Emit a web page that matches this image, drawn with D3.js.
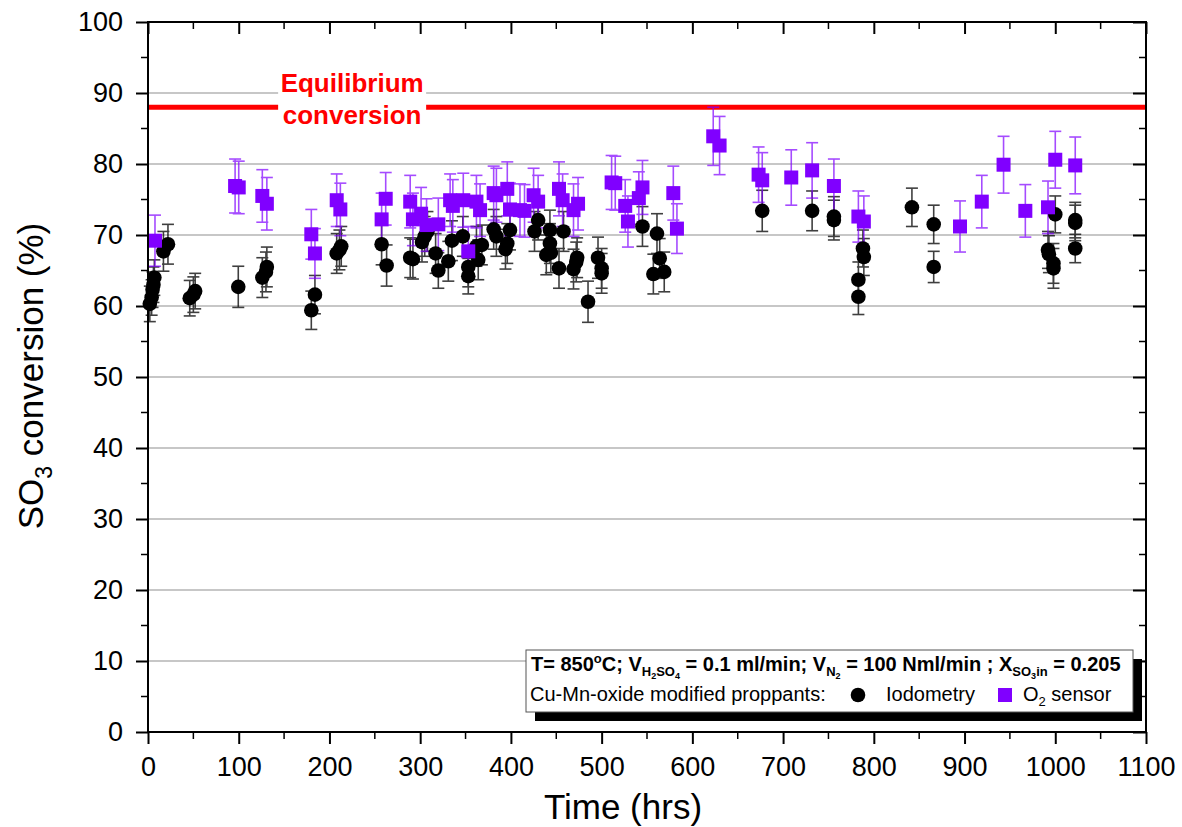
<!DOCTYPE html>
<html>
<head>
<meta charset="utf-8">
<script src="https://cdn.jsdelivr.net/npm/d3@7/dist/d3.min.js"></script>
<style>
  body { margin: 0; background: #fff; }
  text { font-family: "Liberation Sans", Arial, sans-serif; }
</style>
</head>
<body>
<div id="chart"></div>
<script>
// [time (hrs), SO3 conversion (%), error]
var iodometry = [
  [2,60.3,2.5],[4,61.2,2.5],[5,62.3,2.5],[6,63.0,2.5],[7,64.0,2.5],[17,67.7,2.8],[22,68.7,2.8],
  [46,61.1,2.5],[50,61.6,2.5],[52,62.1,2.5],[99.5,62.7,2.9],[126,64.0,2.8],[130,64.8,2.8],[131,65.5,2.8],
  [180,59.4,2.7],[184,61.6,2.7],[208,67.4,2.8],[211,67.9,2.8],[213,68.4,2.8],[257.5,68.7,2.9],[263,65.7,2.9],
  [289,66.8,2.8],[292,66.6,2.8],[302,69.0,2.8],[305,69.8,2.8],[308,70.5,2.8],[317,67.4,2.8],[320,65.0,2.5],
  [331,66.3,2.8],[335,69.2,2.8],[347,69.8,2.8],[353,65.5,2.8],[353,64.2,2.5],[362,68.4,2.8],[364,66.5,2.8],
  [368,68.6,2.8],[381,70.8,2.8],[384,69.8,2.8],[394,68.0,2.8],[396,68.8,2.8],[399,70.7,2.8],[426,70.5,2.8],
  [430,72.1,2.8],[439,67.2,2.8],[443,70.7,2.8],[443,68.8,2.8],[444,67.5,2.8],[453,65.3,2.8],[458,70.5,2.8],
  [469,65.2,2.8],[472,66.2,2.8],[473,66.8,2.8],[485,60.6,2.9],[496,66.8,2.9],[500,65.3,2.8],[500,64.6,2.8],
  [545,71.2,2.8],[557,64.5,2.8],[561,70.2,2.8],[564,66.7,2.8],[569,64.8,2.8],[677,73.4,2.9],[732,73.4,2.8],
  [756,72.6,2.8],[756,72.1,2.8],[783,63.7,2.5],[783,61.3,2.5],[788,68.1,2.6],[789,66.9,2.6],[842,73.9,2.7],
  [866,71.5,2.7],[866,65.5,2.2],[992,67.9,2.6],[993,67.3,2.6],[998,66.0,2.8],[998,65.3,2.8],[1000,72.9,2.6],
  [1022,72.1,2.5],[1022,71.7,2.5],[1022,68.1,2.0]
];

var o2sensor = [
  [7.7,69.2,3.6],[96,76.9,3.8],[100,76.7,3.7],[126,75.5,3.7],[131,74.4,3.7],[180,70.1,3.5],[184,67.4,3.5],
  [208,74.9,3.7],[212,73.6,3.7],[257.5,72.2,3.7],[262,75.1,3.7],[289,74.7,3.7],[292,72.2,3.7],[301,73.0,3.7],
  [307,71.4,3.7],[320,71.5,3.7],[333,74.9,3.7],[336,74.1,3.7],[347.5,74.9,3.8],[353,67.7,3.5],[362,74.7,3.7],
  [366,73.5,3.7],[381,75.9,3.8],[384,75.6,3.8],[396,76.5,3.8],[399,73.6,3.7],[410,73.5,3.7],[415,73.4,3.7],
  [425,75.6,3.8],[430,74.7,3.7],[453,76.5,3.8],[457,74.9,3.7],[469,73.5,3.7],[474,74.4,3.7],[511,77.4,3.8],
  [515,77.3,3.8],[526,74.1,3.7],[529,71.9,3.6],[541,75.2,3.7],[545,76.7,3.8],[579,75.9,3.8],[583,70.9,3.5],
  [623,83.9,4.1],[630,82.6,4.1],[673,78.5,3.9],[677,77.7,3.9],[709,78.1,3.9],[732,79.1,3.9],[756,76.9,3.8],
  [783,72.6,3.6],[789,71.9,3.6],[895,71.2,3.6],[919,74.7,3.7],[943,79.9,4.0],[967,73.4,3.7],[992,73.9,3.7],
  [1000,80.6,4.0],[1022,79.8,4.0]
];

var equilibrium = 88;
var xTicks = d3.range(0, 1101, 100);
var yTicks = d3.range(0, 101, 10);

var W = 1182, H = 827;
var margin = {top: 22, right: 36, bottom: 95, left: 148};
var width = W - margin.left - margin.right;
var height = H - margin.top - margin.bottom;

var svg = d3.select("#chart").append("svg")
  .attr("width", W).attr("height", H);

var g = svg.append("g")
  .attr("transform", "translate(" + margin.left + "," + margin.top + ")");

var x = d3.scaleLinear().domain([0, 1100]).range([0, width]);
var y = d3.scaleLinear().domain([0, 100]).range([height, 0]);

// grid
g.append("g").selectAll("line")
  .data(yTicks.filter(d => d > 0 && d < 100))
  .enter().append("line")
  .attr("x1", 0).attr("x2", width)
  .attr("y1", d => y(d)).attr("y2", d => y(d))
  .attr("stroke", "#b4b4b4").attr("stroke-width", 1.3);

// equilibrium line
g.append("line")
  .attr("x1", 0).attr("x2", width)
  .attr("y1", y(equilibrium)).attr("y2", y(equilibrium))
  .attr("stroke", "#ff0000").attr("stroke-width", 5);

// label with white background
var eqX = x(225);
g.append("rect")
  .attr("x", eqX - 74).attr("y", y(equilibrium) - 36)
  .attr("width", 148).attr("height", 62)
  .attr("fill", "#fff");
g.append("text")
  .attr("x", eqX).attr("y", y(equilibrium) - 15)
  .attr("text-anchor", "middle")
  .attr("font-size", 26).attr("font-weight", "bold").attr("fill", "#ff0000")
  .text("Equilibrium");
g.append("text")
  .attr("x", eqX).attr("y", y(equilibrium) + 17)
  .attr("text-anchor", "middle")
  .attr("font-size", 26).attr("font-weight", "bold").attr("fill", "#ff0000")
  .text("conversion");

// error bars
function errorBars(data, color, opacity) {
  var eb = g.append("g").attr("stroke", color).attr("stroke-width", 1.6).attr("opacity", opacity);
  data.forEach(function(d) {
    var cx = x(d[0]), y1 = y(d[1] + d[2]), y0 = y(d[1] - d[2]);
    eb.append("line").attr("x1", cx).attr("x2", cx).attr("y1", y1).attr("y2", y0);
    eb.append("line").attr("x1", cx - 6).attr("x2", cx + 6).attr("y1", y1).attr("y2", y1);
    eb.append("line").attr("x1", cx - 6).attr("x2", cx + 6).attr("y1", y0).attr("y2", y0);
  });
}
errorBars(iodometry, "#000", 0.75);
errorBars(o2sensor, "#8000ff", 0.7);

g.append("g").selectAll("circle")
  .data(iodometry).enter().append("circle")
  .attr("cx", d => x(d[0])).attr("cy", d => y(d[1]))
  .attr("r", 7.3).attr("fill", "#000");

g.append("g").selectAll("rect")
  .data(o2sensor).enter().append("rect")
  .attr("x", d => x(d[0]) - 7).attr("y", d => y(d[1]) - 7)
  .attr("width", 14).attr("height", 14)
  .attr("fill", "#8000ff");

// axes
var xMinor = d3.range(50, 1100, 100);
var yMinor = d3.range(5, 100, 10);

var bottomAxis = g.append("g").attr("transform", "translate(0," + height + ")")
  .call(d3.axisBottom(x).tickValues(xTicks).tickSize(12).tickPadding(13).tickFormat(d3.format("d")));
var leftAxis = g.append("g")
  .call(d3.axisLeft(y).tickValues(yTicks).tickSize(12).tickPadding(13));
var topAxis = g.append("g")
  .call(d3.axisBottom(x).tickValues(xTicks).tickSize(12).tickFormat(""));
var rightAxis = g.append("g").attr("transform", "translate(" + width + ",0)")
  .call(d3.axisLeft(y).tickValues(yTicks).tickSize(13).tickFormat(""));

[bottomAxis, leftAxis, topAxis, rightAxis].forEach(function(a) {
  a.select(".domain").remove();
  a.selectAll(".tick line").attr("stroke", "#000").attr("stroke-width", 2);
  a.selectAll(".tick text").attr("font-size", 27).attr("fill", "#000")
    .attr("font-family", "'Liberation Sans', Arial, sans-serif");
});

// minor ticks
g.append("g").selectAll("line").data(xMinor).enter().append("line")
  .attr("x1", d => x(d)).attr("x2", d => x(d)).attr("y1", height).attr("y2", height + 7)
  .attr("stroke", "#000").attr("stroke-width", 1.5);
g.append("g").selectAll("line").data(xMinor).enter().append("line")
  .attr("x1", d => x(d)).attr("x2", d => x(d)).attr("y1", 0).attr("y2", 7)
  .attr("stroke", "#000").attr("stroke-width", 1.5);
g.append("g").selectAll("line").data(yMinor).enter().append("line")
  .attr("x1", -7).attr("x2", 0).attr("y1", d => y(d)).attr("y2", d => y(d))
  .attr("stroke", "#000").attr("stroke-width", 1.5);
g.append("g").selectAll("line").data(yMinor).enter().append("line")
  .attr("x1", width - 7).attr("x2", width).attr("y1", d => y(d)).attr("y2", d => y(d))
  .attr("stroke", "#000").attr("stroke-width", 1.5);

// frame
g.append("rect").attr("x", 0).attr("y", 0).attr("width", width).attr("height", height)
  .attr("fill", "none").attr("stroke", "#000").attr("stroke-width", 2);

// axis titles
svg.append("text")
  .attr("x", 623).attr("y", 819)
  .attr("text-anchor", "middle").attr("font-size", 35)
  .text("Time (hrs)");

var yt = svg.append("text")
  .attr("transform", "translate(43,376) rotate(-90)")
  .attr("text-anchor", "middle").attr("font-size", 35);
yt.append("tspan").text("SO");
yt.append("tspan").attr("font-size", 23).attr("dy", 9).text("3");
yt.append("tspan").attr("dy", -9).text(" conversion (%)");

// legend
var lx = 526, ly = 650, lw = 607, lh = 62;
svg.append("rect").attr("x", lx + 9).attr("y", ly + 9).attr("width", lw).attr("height", lh).attr("fill", "#000");
svg.append("rect").attr("x", lx).attr("y", ly).attr("width", lw).attr("height", lh)
  .attr("fill", "#fff").attr("stroke", "#555").attr("stroke-width", 1);

var l1 = svg.append("text").attr("x", 531).attr("y", 671)
  .attr("font-size", 20).attr("font-weight", "bold");
l1.append("tspan").text("T= 850");
l1.append("tspan").attr("font-size", 13).attr("dy", -8).text("o");
l1.append("tspan").attr("dy", 8).text("C; V");
l1.append("tspan").attr("font-size", 13).attr("dy", 5).text("H");
l1.append("tspan").attr("font-size", 9).attr("dy", 3).text("2");
l1.append("tspan").attr("font-size", 13).attr("dy", -3).text("SO");
l1.append("tspan").attr("font-size", 9).attr("dy", 3).text("4");
l1.append("tspan").attr("dy", -8).text(" = 0.1 ml/min; V");
l1.append("tspan").attr("font-size", 13).attr("dy", 5).text("N");
l1.append("tspan").attr("font-size", 9).attr("dy", 3).text("2");
l1.append("tspan").attr("dy", -8).text(" = 100 Nml/min ; X");
l1.append("tspan").attr("font-size", 13).attr("dy", 5).text("SO");
l1.append("tspan").attr("font-size", 9).attr("dy", 3).text("3");
l1.append("tspan").attr("font-size", 13).attr("dy", -3).text("in");
l1.append("tspan").attr("dy", -5).text(" = 0.205");

svg.append("text").attr("x", 530).attr("y", 701).attr("font-size", 20)
  .text("Cu-Mn-oxide modified proppants:");
svg.append("circle").attr("cx", 858).attr("cy", 695).attr("r", 7.3).attr("fill", "#000");
svg.append("text").attr("x", 886).attr("y", 701).attr("font-size", 20).text("Iodometry");
svg.append("rect").attr("x", 998).attr("y", 688).attr("width", 14).attr("height", 14).attr("fill", "#8000ff");
var l2 = svg.append("text").attr("x", 1023).attr("y", 701).attr("font-size", 20);
l2.append("tspan").text("O");
l2.append("tspan").attr("font-size", 13).attr("dy", 5).text("2");
l2.append("tspan").attr("dy", -5).text(" sensor");
</script>
</body>
</html>
